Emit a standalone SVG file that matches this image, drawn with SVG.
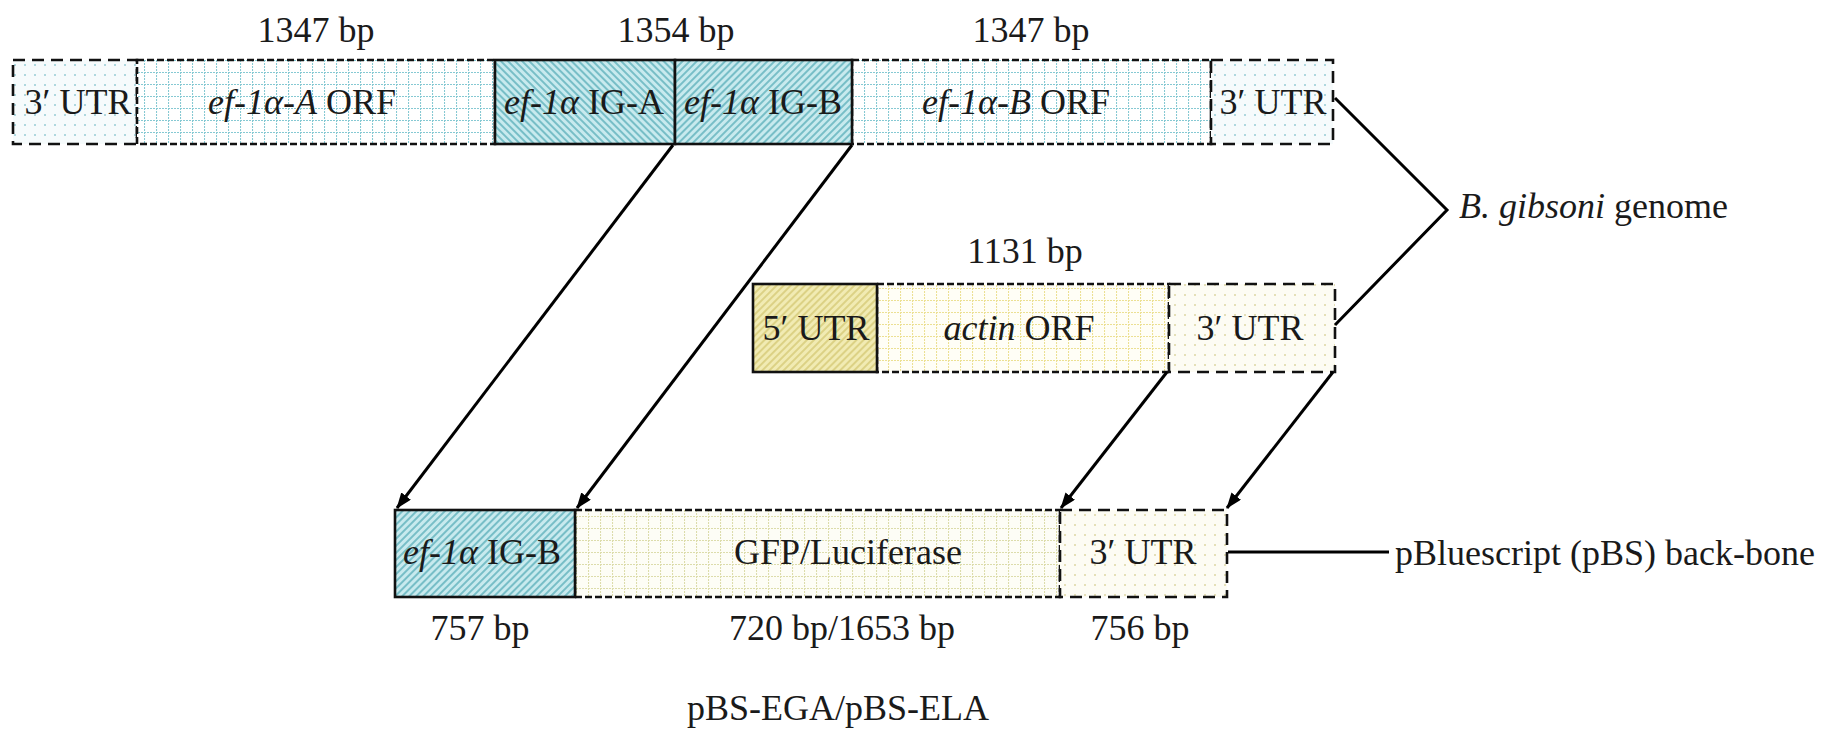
<svg xmlns="http://www.w3.org/2000/svg" width="1843" height="734" viewBox="0 0 1843 734">
<style>
text{font-family:"Liberation Serif","Times New Roman",serif;font-size:36px;fill:#1a1a1a}
.c{text-anchor:middle}
.i{font-style:italic}
.solid{fill:none;stroke:#111;stroke-width:2.6}
.dOrf{fill:none;stroke:#111;stroke-width:2.6;stroke-dasharray:7 3}
.dUtr{fill:none;stroke:#111;stroke-width:2.6;stroke-dasharray:12 7}
.conn{fill:none;stroke:#000;stroke-width:3}
</style>
<defs>
<pattern id="gridB" width="12" height="12" patternUnits="userSpaceOnUse">
<rect width="12" height="12" fill="#ffffff"/>
<path d="M0 0.5H12M0.5 0V12" stroke="#86c9d3" stroke-width="1.1" stroke-dasharray="2 1"/>
</pattern>
<pattern id="dotsB" width="10" height="10" patternUnits="userSpaceOnUse">
<rect width="10" height="10" fill="#f6fbfc"/>
<circle cx="5" cy="5" r="1" fill="#96cbd4"/>
</pattern>
<pattern id="hatchBL" width="5" height="5" patternUnits="userSpaceOnUse" patternTransform="rotate(-45)">
<rect width="5" height="5" fill="#c8eaee"/>
<line x1="1" y1="0" x2="1" y2="5" stroke="#55abb7" stroke-width="1.4"/>
</pattern>
<pattern id="hatchBR" width="5" height="5" patternUnits="userSpaceOnUse" patternTransform="rotate(45)">
<rect width="5" height="5" fill="#c8eaee"/>
<line x1="1" y1="0" x2="1" y2="5" stroke="#55abb7" stroke-width="1.4"/>
</pattern>
<pattern id="hatchY" width="5" height="5" patternUnits="userSpaceOnUse" patternTransform="rotate(45)">
<rect width="5" height="5" fill="#f1ebb3"/>
<line x1="1" y1="0" x2="1" y2="5" stroke="#d3c771" stroke-width="1.4"/>
</pattern>
<pattern id="gridY" width="12" height="12" patternUnits="userSpaceOnUse">
<rect width="12" height="12" fill="#fffef6"/>
<path d="M0 0.5H12M0.5 0V12" stroke="#ece093" stroke-width="1.1" stroke-dasharray="2 1"/>
</pattern>
<pattern id="gridG" width="12" height="12" patternUnits="userSpaceOnUse">
<rect width="12" height="12" fill="#fdfdf6"/>
<path d="M0 0.5H12M0.5 0V12" stroke="#dcdcab" stroke-width="1.1" stroke-dasharray="2 1"/>
</pattern>
<pattern id="dotsY" width="10" height="10" patternUnits="userSpaceOnUse">
<rect width="10" height="10" fill="#fdfcf4"/>
<circle cx="5" cy="5" r="1" fill="#dcd6a4"/>
</pattern>
<marker id="ah" viewBox="0 0 16 12" refX="15" refY="6" markerWidth="16" markerHeight="12" markerUnits="userSpaceOnUse" orient="auto">
<path d="M0 0L16 6L0 12Z" fill="#000"/>
</marker>
</defs>

<rect width="1843" height="734" fill="#ffffff"/>

<!-- top row: ef-1a locus -->
<g id="top-3utr-left">
<rect x="13" y="60" width="124" height="84" fill="url(#dotsB)"/>
<rect x="13" y="60" width="124" height="84" class="dUtr"/>
<text x="78" y="114" class="c">3′ UTR</text>
</g>
<g id="top-orf-a">
<rect x="137" y="60" width="358" height="84" fill="url(#gridB)"/>
<rect x="137" y="60" width="358" height="84" class="dOrf"/>
<text x="302" y="114" class="c"><tspan class="i">ef-1α-A</tspan> ORF</text>
</g>
<g id="top-orf-b">
<rect x="852" y="60" width="359" height="84" fill="url(#gridB)"/>
<rect x="852" y="60" width="359" height="84" class="dOrf"/>
<text x="1016" y="114" class="c"><tspan class="i">ef-1α-B</tspan> ORF</text>
</g>
<g id="top-3utr-right">
<rect x="1211" y="60" width="122" height="84" fill="url(#dotsB)"/>
<rect x="1211" y="60" width="122" height="84" class="dUtr"/>
<text x="1273" y="114" class="c">3′ UTR</text>
</g>
<g id="top-ig-a">
<rect x="495" y="60" width="180" height="84" fill="url(#hatchBL)"/>
<rect x="495" y="60" width="180" height="84" class="solid"/>
<text x="584" y="114" class="c"><tspan class="i">ef-1α</tspan> IG-A</text>
</g>
<g id="top-ig-b">
<rect x="675" y="60" width="177" height="84" fill="url(#hatchBR)"/>
<rect x="675" y="60" width="177" height="84" class="solid"/>
<text x="763" y="114" class="c"><tspan class="i">ef-1α</tspan> IG-B</text>
</g>
<g id="top-sizes">
<text x="316" y="42" class="c">1347 bp</text>
<text x="676" y="42" class="c">1354 bp</text>
<text x="1031" y="42" class="c">1347 bp</text>
</g>

<!-- middle row: actin locus -->
<g id="mid-orf">
<rect x="877" y="284" width="292" height="88" fill="url(#gridY)"/>
<rect x="877" y="284" width="292" height="88" class="dOrf"/>
<text x="1019" y="340" class="c"><tspan class="i">actin</tspan> ORF</text>
</g>
<g id="mid-3utr">
<rect x="1169" y="284" width="166" height="88" fill="url(#dotsY)"/>
<rect x="1169" y="284" width="166" height="88" class="dUtr"/>
<text x="1250" y="340" class="c">3′ UTR</text>
</g>
<g id="mid-5utr">
<rect x="753" y="284" width="124" height="88" fill="url(#hatchY)"/>
<rect x="753" y="284" width="124" height="88" class="solid"/>
<text x="816" y="340" class="c">5′ UTR</text>
</g>
<g id="mid-size">
<text x="1025" y="263" class="c">1131 bp</text>
</g>

<!-- bottom row: construct -->
<g id="bot-gfp">
<rect x="575" y="510" width="485" height="87" fill="url(#gridG)"/>
<rect x="575" y="510" width="485" height="87" class="dOrf"/>
<text x="848" y="564" class="c">GFP/Luciferase</text>
</g>
<g id="bot-3utr">
<rect x="1060" y="510" width="167" height="87" fill="url(#dotsY)"/>
<rect x="1060" y="510" width="167" height="87" class="dUtr"/>
<text x="1143" y="564" class="c">3′ UTR</text>
</g>
<g id="bot-ig-b">
<rect x="395" y="510" width="180" height="87" fill="url(#hatchBR)"/>
<rect x="395" y="510" width="180" height="87" class="solid"/>
<text x="482" y="564" class="c"><tspan class="i">ef-1α</tspan> IG-B</text>
</g>
<g id="bot-sizes">
<text x="480" y="640" class="c">757 bp</text>
<text x="842" y="640" class="c">720 bp/1653 bp</text>
<text x="1140" y="640" class="c">756 bp</text>
</g>

<g id="label-genome">
<text x="1459" y="218"><tspan class="i">B. gibsoni</tspan> genome</text>
</g>
<g id="label-backbone">
<text x="1395" y="565">pBluescript (pBS) back-bone</text>
</g>
<g id="label-construct">
<text x="838" y="720" class="c">pBS-EGA/pBS-ELA</text>
</g>

<!-- connectors -->
<g id="connectors">
<line class="conn" x1="673" y1="145" x2="397" y2="508" marker-end="url(#ah)"/>
<line class="conn" x1="852" y1="145" x2="577" y2="508" marker-end="url(#ah)"/>
<line class="conn" x1="1167" y1="372" x2="1061" y2="508" marker-end="url(#ah)"/>
<line class="conn" x1="1333" y1="372" x2="1227" y2="508" marker-end="url(#ah)"/>
<polyline class="conn" points="1335,98 1447,210 1335,325"/>
<line class="conn" x1="1228" y1="552" x2="1389" y2="552"/>
</g>
</svg>
